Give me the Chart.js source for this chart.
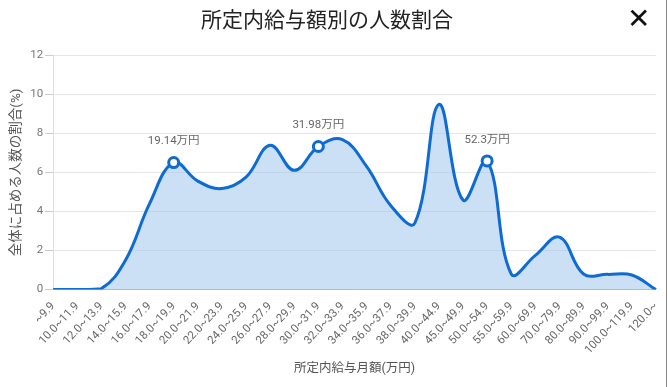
<!DOCTYPE html>
<html><head><meta charset="utf-8">
<script src="https://cdn.jsdelivr.net/npm/chart.js@4"></script>
<style>
html,body{margin:0;padding:0;background:#fff;}
#wrap{position:relative;width:668px;height:387px;overflow:hidden;}
#border{position:absolute;left:666px;top:0;width:1px;height:387px;background:#8a8a8a;}
#title{position:absolute;left:-7px;width:668px;top:3px;text-align:center;font:21px "Noto Sans CJK JP",sans-serif;color:#222;}
#close{position:absolute;left:627px;top:2px;font:bold 28px "DejaVu Sans",sans-serif;color:#111;}
canvas{position:absolute;left:0;top:0;}
</style></head><body>
<div id="wrap">
<canvas id="c" width="668" height="387"></canvas>
<div id="title">所定内給与額別の人数割合</div>
<div id="close">✕</div>
<div id="border"></div>
</div>
<script>
const categories = ["~9.9","10.0~11.9","12.0~13.9","14.0~15.9","16.0~17.9","18.0~19.9","20.0~21.9","22.0~23.9","24.0~25.9","26.0~27.9","28.0~29.9","30.0~31.9","32.0~33.9","34.0~35.9","36.0~37.9","38.0~39.9","40.0~44.9","45.0~49.9","50.0~54.9","55.0~59.9","60.0~69.9","70.0~79.9","80.0~89.9","90.0~99.9","100.0~119.9","120.0~"];
const shares = [0,0,0.05,1.5,4.4,6.5,5.55,5.17,5.75,7.38,6.1,7.32,7.67,6.3,4.3,3.4,9.47,4.58,6.58,0.8,1.75,2.68,0.8,0.78,0.75,0];
const markerIndex = [5,11,18];
const markerLabels = ["19.14万円","31.98万円","52.3万円"];
const yTicks = [0,2,4,6,8,10,12];

const font = 'Roboto, "Noto Sans CJK JP", sans-serif';
const pointRadius = shares.map((v,i)=>markerIndex.includes(i)?5:0);

const labelPlugin = {
  id:'markerLabels',
  afterDatasetsDraw(chart){
    const meta = chart.getDatasetMeta(0);
    const ctx = chart.ctx;
    ctx.save();
    ctx.font = '11.5px ' + font;
    ctx.fillStyle = '#666';
    ctx.textAlign = 'center';
    ctx.textBaseline = 'middle';
    markerIndex.forEach((idx,k)=>{
      const p = meta.data[idx];
      ctx.fillText(markerLabels[k], p.x, p.y - 21);
    });
    ctx.restore();
  }
};

new Chart(document.getElementById('c'), {
  type:'line',
  data:{labels:categories, datasets:[{
    data:shares,
    borderColor:'#0f6bd4',
    borderWidth:3,
    backgroundColor:'rgba(160,198,236,0.55)',
    fill:'origin',
    tension:0.4,
    pointRadius:pointRadius,
    pointHoverRadius:pointRadius,
    pointBackgroundColor:'#fff',
    pointBorderColor:'#0f6bd4',
    pointBorderWidth:3
  }]},
  plugins:[labelPlugin],
  options:{
    responsive:false,
    animation:false,
    layout:{padding:{top:55,right:10,left:5,bottom:7}},
    plugins:{legend:{display:false},tooltip:{enabled:false}},
    scales:{
      x:{
        grid:{display:false},
        border:{color:'#bbb'},
        ticks:{color:'#666',font:{family:font,size:11.5},minRotation:47,maxRotation:47,autoSkip:false,padding:2},
        title:{display:true,text:'所定内給与月額(万円)',color:'#555',font:{family:font,size:12.5},padding:{top:2}}
      },
      y:{
        min:0,max:12,
        afterBuildTicks(axis){axis.ticks = yTicks.map(v=>({value:v}));},
        grid:{color:'#e6e6e6',tickLength:8,tickColor:'#ccc'},
        border:{color:'#ddd'},
        ticks:{color:'#777',font:{family:font,size:11.5},padding:2},
        title:{display:true,text:'全体に占める人数の割合(%)',color:'#555',font:{family:font,size:13.5},padding:{bottom:3}}
      }
    }
  }
});
</script>
</body></html>
